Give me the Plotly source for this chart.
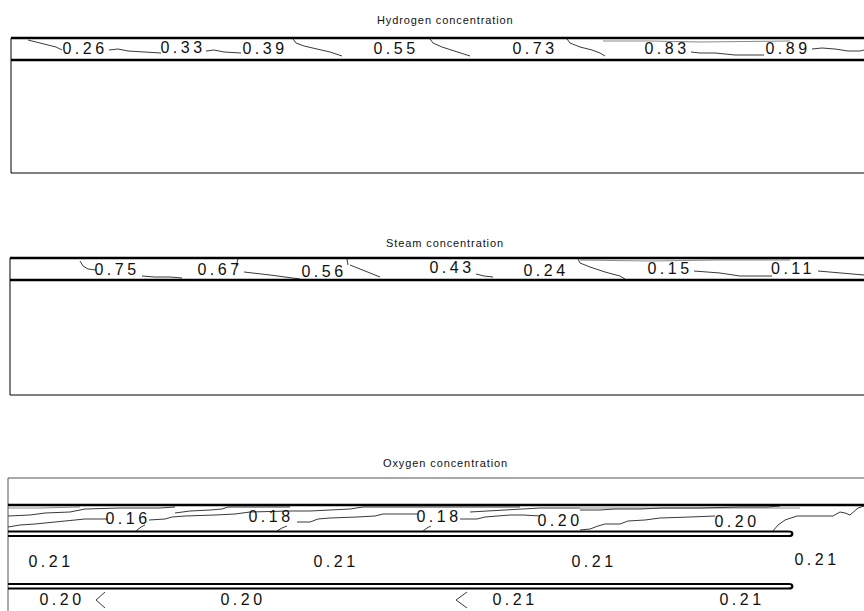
import plotly.graph_objects as go

W, H = 864, 611

# ---------------- data (positions in mm along / across the cell) ----------------
# Hydrogen concentration (channel 0..2.2 mm deep)
h2_levels = ["0.26", "0.33", "0.39", "0.55", "0.73", "0.83", "0.89"]
h2_label_x = [7.4, 17.2, 25.4, 38.5, 52.4, 65.6, 77.7]
h2_label_y = [1.2, 1.1, 1.2, 1.2, 1.2, 1.2, 1.15]
h2_line_x = [1.7, 2.5, 3.5, 4.5, 5.1, None,
             9.8, 10.7, 11.7, 13.1, 14.4, 15.0, None,
             19.5, 20.3, 21.3, 22.5, 23.0, None,
             28.2, 28.5, 29.3, 30.7, 31.9, 33.1, None,
             41.9, 42.2, 43.1, 44.1, 45.1, 45.9, None,
             55.6, 55.9, 56.9, 58.1, 58.9, 59.4, None,
             68.0, 68.9, 70.4, 72.4, 75.3, None,
             80.1, 81.1, 82.4, 83.7, 84.9, 85.3]
h2_line_y = [0.2, 0.4, 0.6, 0.9, 1.2, None,
             1.2, 1.1, 1.3, 1.4, 1.5, 1.5, None,
             1.3, 1.2, 1.4, 1.5, 1.5, None,
             0.1, 0.5, 0.8, 1.1, 1.4, 1.8, None,
             0.1, 0.5, 0.9, 1.2, 1.5, 1.8, None,
             0.1, 0.5, 0.9, 1.2, 1.5, 1.8, None,
             1.4, 1.5, 1.5, 1.7, 1.7, None,
             1.1, 1.0, 1.1, 1.3, 1.3, 1.2]
h2_wall_x = [59.2, 63.9, 68.9, 77.9]
h2_wall_y = [0.3, 0.3, 0.4, 0.3]

# Steam concentration
h2o_levels = ["0.75", "0.67", "0.56", "0.43", "0.24", "0.15", "0.11"]
h2o_label_x = [10.7, 21.0, 31.4, 44.2, 53.6, 66.0, 78.3]
h2o_label_y = [1.3, 1.3, 1.45, 1.1, 1.4, 1.15, 1.15]
h2o_line_x = [7.0, 7.3, 7.8, 8.6, None,
              13.2, 14.5, 16.0, 17.2, None,
              22.8, 22.6, None,
              23.4, 24.5, 26.0, 27.5, 29.0, None,
              33.7, 33.8, None,
              34.0, 34.8, 35.8, 37.0, None,
              46.6, 47.4, 48.3, None,
              56.8, 57.0, 58.0, 59.5, 61.0, 61.5, None,
              68.4, 69.5, 71.0, 73.0, 76.2, None,
              80.8, 81.8, 83.0, 84.2, 85.4]
h2o_line_y = [0.3, 0.8, 1.1, 1.2, None,
              1.8, 1.9, 1.9, 2.0, None,
              0.1, 0.8, None,
              1.4, 1.5, 1.7, 1.9, 2.1, None,
              0.1, 0.7, None,
              0.7, 1.0, 1.4, 1.9, None,
              1.6, 1.8, 1.9, None,
              0.1, 0.5, 0.9, 1.4, 1.8, 2.1, None,
              1.3, 1.4, 1.5, 1.8, 1.8, None,
              1.3, 1.4, 1.5, 1.6, 1.7]
h2o_wall_x = [57.0, 64.0, 71.0, 78.0]
h2o_wall_y = [0.2, 0.3, 0.2, 0.2]

# Oxygen concentration
o2_levels = ["0.16", "0.18", "0.18", "0.20", "0.20",
             "0.21", "0.21", "0.21", "0.21",
             "0.20", "0.20", "0.21", "0.21"]
o2_label_x = [12.0, 26.3, 43.1, 55.2, 72.9,
              4.3, 32.8, 58.6, 80.9,
              5.4, 23.5, 50.7, 73.4]
o2_label_y = [4.2, 3.95, 3.95, 4.35, 4.45,
              8.5, 8.5, 8.5, 8.3,
              12.3, 12.3, 12.3, 12.3]
o2_line_x = [0.0, 2.2, 3.7, 6.2, 7.7, 11.2, 15.2, 16.7, None,
             0.0, 1.2, 2.7, 4.7, 6.2, 7.7, 10.0, None,
             14.1, 15.7, 16.4, 17.7, 20.7, 22.7, 24.2, 28.2, None,
             16.7, 18.2, 20.2, 21.4, 22.0, 28.2, None,
             12.8, 13.3, 13.7, None,
             26.9, 27.4, 27.9, None,
             28.9, 30.2, 31.0, 32.2, 34.9, 36.7, 37.5, 39.5, 41.0, None,
             28.2, 30.2, 32.2, 34.2, 35.5, 51.2, None,
             45.2, 46.9, 47.7, 50.2, 51.5, 53.2, None,
             41.5, 41.9, 42.3, None,
             46.2, 48.2, 50.2, 51.7, 53.2, 57.2, None,
             57.2, 58.2, 59.0, 59.7, 61.2, 62.0, 63.7, 65.2, 68.2, 70.7, None,
             57.2, 59.2, 60.7, 63.2, 65.5, 69.2, 73.2, 75.9, 77.2, None,
             76.5, 77.0, 77.7, 78.9, 80.7, 82.5, 83.2, 83.7, 84.2, 84.7, 85.0, 85.6, None,
             9.7, 8.8, 9.7, None,
             45.9, 44.8, 45.9]
o2_line_y = [3.8, 3.7, 3.5, 3.4, 3.1, 3.0, 3.0, 2.9, None,
             4.9, 4.7, 4.6, 4.4, 4.3, 4.1, 4.1, None,
             4.2, 4.1, 3.9, 3.8, 3.7, 3.6, 3.4, 3.3, None,
             3.5, 3.3, 3.2, 3.1, 2.9, 2.9, None,
             5.3, 4.9, 4.7, None,
             5.3, 5.0, 4.8, None,
             4.4, 4.4, 4.1, 4.0, 3.9, 3.8, 3.6, 3.6, 3.6, None,
             3.3, 3.3, 3.2, 3.1, 2.9, 2.9, None,
             4.1, 4.1, 3.9, 3.7, 3.7, 3.8, None,
             5.3, 5.0, 4.8, None,
             3.4, 3.3, 3.2, 3.1, 3.0, 3.0, None,
             5.2, 5.1, 4.8, 4.6, 4.6, 4.3, 4.2, 4.0, 3.9, 3.8, None,
             3.2, 3.2, 3.1, 3.1, 3.0, 3.0, 2.9, 2.9, 2.8, None,
             5.3, 4.7, 4.2, 3.8, 3.8, 3.8, 3.4, 3.5, 3.7, 3.3, 3.0, 2.8, None,
             11.4, 12.2, 13.0, None,
             11.4, 12.2, 13.0]
o2_wall_x = [0.0, 3.2, 7.2, None, 57.2, 79.2]
o2_wall_y = [3.0, 3.0, 2.9, None, 3.0, 3.0]

titles = ["Hydrogen concentration", "Steam concentration", "Oxygen concentration"]

# ---------------- layout helpers ----------------
FONT = "Liberation Sans, Arial, sans-serif"
PX_PER_MM = 10.0

panels = [
    dict(title=titles[0], levels=h2_levels, lx=h2_label_x, ly=h2_label_y,
         cx=h2_line_x, cy=h2_line_y, wx=h2_wall_x, wy=h2_wall_y,
         wall_px=11, top_px=38, span_px=(33, 178), title_px=20),
    dict(title=titles[1], levels=h2o_levels, lx=h2o_label_x, ly=h2o_label_y,
         cx=h2o_line_x, cy=h2o_line_y, wx=h2o_wall_x, wy=h2o_wall_y,
         wall_px=10, top_px=258, span_px=(253, 400), title_px=243),
    dict(title=titles[2], levels=o2_levels, lx=o2_label_x, ly=o2_label_y,
         cx=o2_line_x, cy=o2_line_y, wx=o2_wall_x, wy=o2_wall_y,
         wall_px=8, top_px=478, span_px=(473, 611), title_px=463),
]

fig = go.Figure()
layout_axes = {}
annotations = []
shapes = []


def spaced(t, sp):
    return '<span style="letter-spacing:%spx">%s</span>' % (sp, t)


for i, p in enumerate(panels, start=1):
    xa = "x" if i == 1 else "x%d" % i
    ya = "y" if i == 1 else "y%d" % i
    xkey = "xaxis" if i == 1 else "xaxis%d" % i
    ykey = "yaxis" if i == 1 else "yaxis%d" % i
    x0 = -p["wall_px"] / PX_PER_MM
    x1 = (W - p["wall_px"]) / PX_PER_MM
    top, bot = p["span_px"]
    y_top = (top - p["top_px"]) / PX_PER_MM
    y_bot = (bot - p["top_px"]) / PX_PER_MM
    layout_axes[xkey] = dict(domain=[0, 1], range=[x0, x1], visible=False,
                             anchor=ya, fixedrange=True)
    layout_axes[ykey] = dict(domain=[1 - bot / H, 1 - top / H], range=[y_bot, y_top],
                             visible=False, anchor=xa, fixedrange=True)

    fig.add_trace(go.Scatter(x=p["wx"], y=p["wy"], mode="lines",
                             line=dict(color="#8a8a8a", width=1),
                             xaxis=xa, yaxis=ya, hoverinfo="skip", showlegend=False))
    fig.add_trace(go.Scatter(x=p["cx"], y=p["cy"], mode="lines",
                             line=dict(color="#3a3a3a", width=1),
                             xaxis=xa, yaxis=ya, hoverinfo="skip", showlegend=False))
    fig.add_trace(go.Scatter(x=p["lx"], y=p["ly"], mode="text",
                             text=[spaced(t, 3.5) for t in p["levels"]],
                             textposition="middle center",
                             textfont=dict(family=FONT, size=16, color="#111111"),
                             xaxis=xa, yaxis=ya, hoverinfo="skip", showlegend=False,
                             cliponaxis=False))

    annotations.append(dict(text=spaced(p["title"], 0.9), xref="paper", yref="paper",
                            x=445 / W, y=1 - p["title_px"] / H, xanchor="center",
                            yanchor="middle", showarrow=False,
                            font=dict(family=FONT, size=11, color="#111111")))

    def ln(xs, ys, w, c="#000000"):
        shapes.append(dict(type="line", xref=xa, yref=ya, x0=xs[0], x1=xs[1],
                           y0=ys[0], y1=ys[1], line=dict(color=c, width=w)))

    if i < 3:
        box_bottom = 13.5 if i == 1 else 13.7
        shapes.append(dict(type="rect", xref=xa, yref=ya, x0=0, x1=90, y0=0, y1=box_bottom,
                           line=dict(color="#000000", width=1)))
        ln((0, 90), (0, 0), 2.5)
        ln((0, 90), (2.2, 2.2), 2.5)
    else:
        shapes.append(dict(type="rect", xref=xa, yref=ya, x0=0, x1=90, y0=0, y1=20,
                           line=dict(color="#555555", width=1)))
        ln((0, 90), (2.7, 2.7), 2.5)
        for (ya0, ya1) in [(5.35, 5.8), (10.6, 11.05)]:
            path = "M 0,%s L 78.1,%s C 78.55,%s 78.55,%s 78.1,%s L 0,%s" % (
                ya0, ya0, ya0, ya1, ya1, ya1)
            shapes.append(dict(type="path", xref=xa, yref=ya, path=path,
                               line=dict(color="#000000", width=2.2)))

fig.update_layout(
    width=W, height=H,
    margin=dict(l=0, r=0, t=0, b=0),
    paper_bgcolor="white", plot_bgcolor="white",
    showlegend=False,
    annotations=annotations,
    shapes=shapes,
    **layout_axes,
)

# let the figure occupy the whole window (no default page margin)
fig.write_html("out.html",
               config={"displayModeBar": False, "staticPlot": True},
               post_script="document.body.style.margin='0';document.body.style.overflow='hidden';")
